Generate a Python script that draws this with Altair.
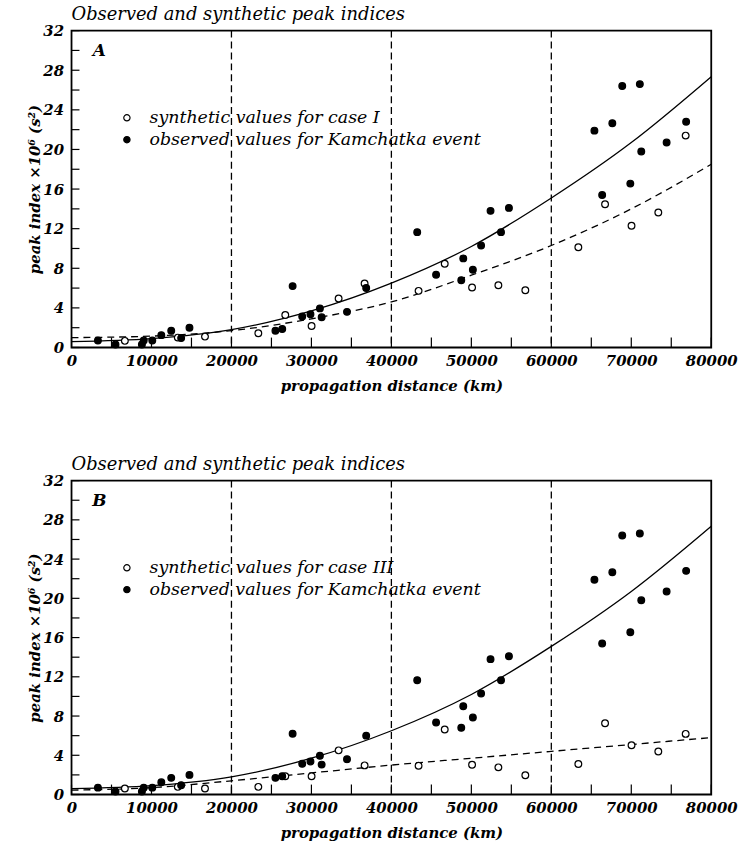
import altair as alt
import pandas as pd

FONT = "DejaVu Serif"

# Observed peak indices for the Kamchatka event (same stations in both panels)
obs_dist = [3300, 5500, 8800, 9030, 10100, 11230, 12470, 13710, 14750,
            25500, 26350, 27650, 28850, 29880, 31060, 31280, 34450, 36850,
            43230, 45590, 48740, 48990, 50190, 51220, 52400, 53710, 54700,
            65390, 66360, 67630, 68870, 69880, 71070, 71250, 74420, 76860]
obs_peak = [0.7, 0.3, 0.3, 0.7, 0.7, 1.25, 1.7, 0.95, 2.0,
            1.7, 1.87, 6.2, 3.13, 3.37, 3.95, 3.05, 3.6, 6.0,
            11.65, 7.35, 6.8, 9.0, 7.85, 10.3, 13.8, 11.65, 14.1,
            21.9, 15.4, 22.65, 26.4, 16.55, 26.6, 19.8, 20.7, 22.8]

# Synthetic peak indices
syn_dist = [6670, 13290, 16690, 23360, 26730, 30020, 33400, 36650, 43400,
            46670, 50090, 53380, 56750, 63380, 66720, 70030, 73380, 76800]
case1_peak = [0.67, 1.0, 1.1, 1.44, 3.28, 2.18, 4.95, 6.46, 5.72,
              8.46, 6.06, 6.28, 5.79, 10.13, 14.46, 12.3, 13.64, 21.4]
case3_peak = [0.61, 0.78, 0.61, 0.78, 1.86, 1.86, 4.5, 2.97, 2.94,
              6.62, 3.04, 2.77, 1.96, 3.11, 7.26, 5.03, 4.39, 6.18]

# Fitted trend curves
fit_dist = [0, 10000, 20000, 30000, 40000, 50000, 60000, 70000, 80000]
obs_fit = [0.6, 0.9, 1.8, 3.7, 6.5, 10.2, 15.1, 20.7, 27.35]
case1_fit = [1.0, 1.15, 1.7, 2.9, 4.6, 7.3, 10.3, 14.0, 18.5]
case3_fit = [0.45, 0.7, 1.4, 2.2, 3.0, 3.7, 4.4, 5.1, 5.8]

# Reference distances (vertical dashed lines)
ref_dist = [20000, 40000, 60000]

# Axis labels and tick positions
x_labels = [0, 10000, 20000, 30000, 40000, 50000, 60000, 70000, 80000]
x_ticks = list(range(0, 80001, 5000))
y_labels = [0, 4, 8, 12, 16, 20, 24, 28, 32]
y_ticks = list(range(0, 33, 2))

TITLE = "Observed and synthetic peak indices"
OBS_LABEL = "observed values for Kamchatka event"

WIDTH = 644

AXIS_STYLE = dict(
    labelFont=FONT, labelFontSize=15, labelFontStyle="italic", labelFontWeight="bold",
    labelColor="black", titleFont=FONT, titleFontSize=15, titleFontStyle="italic",
    titleFontWeight="bold", titleColor="black",
)


def panel(letter, syn_label, syn_peak, syn_fit, height):
    xs = alt.Scale(domain=[0, 80000], nice=False, zero=False)
    ys = alt.Scale(domain=[0, 32], nice=False, zero=False)
    x_axis = alt.Axis(values=x_labels, format="d", title="propagation distance (km)",
                      ticks=False, grid=False, domain=False, labelFlush=False,
                      labelPadding=6, titlePadding=10, **AXIS_STYLE)
    y_axis = alt.Axis(values=y_labels, title="peak index \u00d710\u2076 (s\u00b2)",
                      ticks=False, grid=False, domain=False, labelPadding=8,
                      titlePadding=0, **AXIS_STYLE)

    def X(field):
        return alt.X(f"{field}:Q", scale=xs, axis=x_axis)

    def Y(field):
        return alt.Y(f"{field}:Q", scale=ys, axis=y_axis)

    refs = alt.Chart(pd.DataFrame({"d": ref_dist})).mark_rule(
        color="black", strokeWidth=1.3, strokeDash=[7, 4]
    ).encode(x=X("d"))

    fits = pd.DataFrame({"d": fit_dist, "obs": obs_fit, "syn": syn_fit})
    obs_line = alt.Chart(fits).mark_line(
        color="black", strokeWidth=1.3, interpolate="monotone"
    ).encode(x=X("d"), y=Y("obs"))
    syn_line = alt.Chart(fits).mark_line(
        color="black", strokeWidth=1.3, strokeDash=[7, 5], interpolate="monotone"
    ).encode(x=X("d"), y=Y("syn"))

    pts = pd.DataFrame({
        "d": syn_dist + obs_dist,
        "p": syn_peak + obs_peak,
        "kind": [syn_label] * len(syn_dist) + [OBS_LABEL] * len(obs_dist),
    })
    points = alt.Chart(pts).mark_point(
        filled=True, shape="circle", stroke="black", strokeWidth=1.2, opacity=1, size=46
    ).encode(
        x=X("d"), y=Y("p"),
        fill=alt.Fill("kind:N", scale=alt.Scale(domain=[syn_label, OBS_LABEL],
                                                range=["white", "black"]),
                      legend=alt.Legend(title=None, orient="none", legendX=47, legendY=79,
                                        symbolType="circle", symbolSize=40,
                                        symbolStrokeColor="black", symbolStrokeWidth=1.2,
                                        labelFont=FONT, labelFontSize=17.5,
                                        labelFontStyle="italic", labelColor="black",
                                        labelOffset=14, rowPadding=3, padding=0,
                                        labelLimit=0)),
    )

    yt = alt.Chart(pd.DataFrame({"v": y_ticks})).mark_rule(
        color="black", strokeWidth=1.2
    ).encode(y=Y("v"), x=alt.value(0), x2=alt.value(8))
    xt = alt.Chart(pd.DataFrame({"v": x_ticks})).mark_rule(
        color="black", strokeWidth=1.2
    ).encode(x=X("v"), y=alt.value(height), y2=alt.value(height - 10))

    tag = alt.Chart(pd.DataFrame({"t": [letter]})).mark_text(
        font=FONT, fontSize=17, fontStyle="italic", fontWeight="bold",
        align="center", baseline="middle", color="black"
    ).encode(text="t:N", x=alt.value(28), y=alt.value(21))

    return alt.layer(refs, obs_line, syn_line, points, yt, xt, tag).properties(
        width=WIDTH, height=height,
        title=alt.TitleParams(TITLE, anchor="start", frame="group", font=FONT,
                              fontSize=18, fontStyle="italic", fontWeight="normal",
                              color="black", offset=0),
    )


top = panel("A", "synthetic values for case I", case1_peak, case1_fit, 319)
bottom = panel("B", "synthetic values for case III", case3_peak, case3_fit, 316)

chart = alt.vconcat(top, bottom, spacing=61, background="white").resolve_scale(
    fill="independent"
).resolve_legend(fill="independent").properties(
    padding={"left": 27, "top": 2, "right": 10, "bottom": 2}
).configure_view(
    stroke="black", strokeWidth=1.8
)

chart.save("out.html", embed_options={"renderer": "svg", "actions": False})
